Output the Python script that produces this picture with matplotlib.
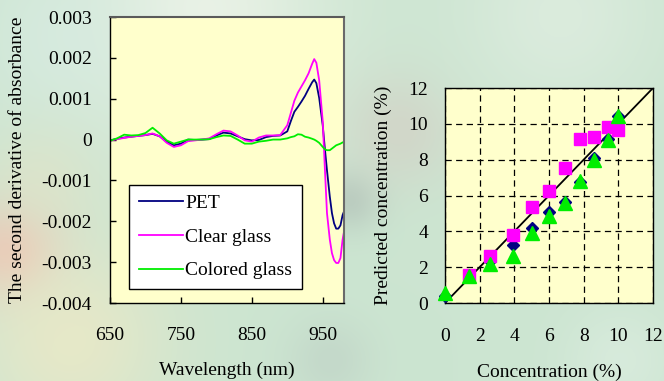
import numpy as np
import matplotlib
matplotlib.use("Agg")
import matplotlib.pyplot as plt

# ---------------- data ----------------
wavelength = [650, 660, 670, 680, 690, 700, 710, 720, 730, 740, 750, 760, 770, 780,
              790, 800, 810, 820, 830, 840, 850, 860, 870, 880, 890, 900, 905, 910,
              915, 920, 925, 930, 935, 938, 941, 945, 950, 953, 956, 960, 963, 966,
              969, 972, 975, 978, 980]
pet = [-0.02, 0.02, 0.05, 0.07, 0.09, 0.11, 0.14, 0.08, -0.05, -0.14, -0.10, 0.00, -0.01, 0.00,
       0.01, 0.10, 0.17, 0.15, 0.08, 0.01, -0.02, -0.01, 0.06, 0.09, 0.10, 0.20, 0.45, 0.68,
       0.80, 0.93, 1.07, 1.24, 1.40, 1.47, 1.38, 1.02, 0.35, -0.22, -0.75, -1.40, -1.80, -2.05,
       -2.18, -2.18, -2.10, -1.85, -1.76]
clear_glass = [-0.03, 0.01, 0.04, 0.07, 0.09, 0.11, 0.15, 0.08, -0.08, -0.18, -0.14, -0.04, -0.02, 0.00,
               0.03, 0.13, 0.22, 0.20, 0.10, -0.02, -0.05, 0.05, 0.10, 0.10, 0.11, 0.35, 0.65, 0.95,
               1.15, 1.30, 1.45, 1.62, 1.85, 1.97, 1.88, 1.45, 0.45, -0.70, -1.80, -2.45, -2.78, -2.95,
               -3.02, -3.02, -2.90, -2.45, -2.26]
colored_glass = [-0.03, 0.03, 0.12, 0.10, 0.11, 0.16, 0.29, 0.15, -0.02, -0.10, -0.05, 0.00, 0.00, 0.00,
                 0.01, 0.06, 0.10, 0.09, 0.00, -0.10, -0.10, -0.05, -0.03, 0.00, 0.00, 0.03, 0.06, 0.08,
                 0.13, 0.12, 0.07, 0.05, 0.02, 0.00, -0.03, -0.08, -0.18, -0.24, -0.26, -0.26, -0.22, -0.18,
                 -0.14, -0.12, -0.10, -0.07, -0.06]
series_names = ["PET", "Clear glass", "Colored glass"]
x_ticks_left = [650, 750, 850, 950]
y_ticks_left = [0.003, 0.002, 0.001, 0, -0.001, -0.002, -0.003, -0.004]
y_ticklabels_left = ["0.003", "0.002", "0.001", "0", "-0.001", "-0.002", "-0.003", "-0.004"]

conc_pet = [0, 1.4, 2.6, 3.9, 5.0, 6.0, 6.9, 7.8, 8.6, 9.4, 10.0]
pred_pet = [0.37, 1.5, 2.35, 3.24, 4.17, 5.09, 5.65, 6.76, 8.09, 9.17, 10.46]
conc_clear = [1.4, 2.6, 3.9, 5.0, 6.0, 6.9, 7.8, 8.6, 9.4, 10.0]
pred_clear = [1.57, 2.65, 3.80, 5.37, 6.24, 7.56, 9.17, 9.26, 9.85, 9.63]
conc_colored = [0, 1.4, 2.6, 3.9, 5.0, 6.0, 6.9, 7.8, 8.6, 9.4, 10.0]
pred_colored = [0.55, 1.48, 2.17, 2.65, 3.89, 4.85, 5.59, 6.81, 7.96, 9.11, 10.41]
ideal = [0, 12]
ticks_right = [0, 2, 4, 6, 8, 10, 12]

FONT = "Liberation Serif"
FS = 14
plt.rcParams['font.family'] = [FONT, 'DejaVu Serif']

fig = plt.figure(figsize=(6.64, 3.81), dpi=100)

# ---------------- soft background ----------------
H, W = 381, 664
yy, xx = np.mgrid[0:H, 0:W]
img = np.zeros((H, W, 3))
img[:] = np.array([204, 229, 209]) / 255.0
blobs = [
    (200, 10, 90, (236, 243, 232), 0.9),
    (60, 40, 60, (215, 235, 225), 0.7),
    (10, 250, 35, (236, 192, 178), 0.9),
    (70, 340, 70, (236, 233, 198), 0.8),
    (40, 180, 40, (225, 228, 200), 0.6),
    (350, 200, 22, (178, 195, 185), 0.7),
    (400, 130, 40, (212, 205, 195), 0.6),
    (560, 15, 70, (225, 238, 226), 0.7),
    (620, 360, 40, (222, 238, 226), 0.6),
    (330, 360, 30, (188, 205, 195), 0.5),
]
for cx, cy, s, col, a in blobs:
    w = a * np.exp(-((xx - cx) ** 2 + (yy - cy) ** 2) / (2 * s * s))
    img = img * (1 - w[..., None]) + (np.array(col) / 255.0) * w[..., None]
bg = fig.add_axes([0, 0, 1, 1], zorder=-10)
bg.imshow(img, aspect='auto', extent=[0, 1, 0, 1], interpolation='bilinear')
bg.set_axis_off()

# ---------------- left panel ----------------
ax1 = fig.add_axes([110 / 664, 1 - 303 / 381, 234 / 664, 286 / 381])
ax1.set_facecolor('#FFFFCC')
colors = ['#000080', '#FF00FF', '#00EE00']
wl = np.array(wavelength)
for vals, name, c in zip([pet, clear_glass, colored_glass], series_names, colors):
    ax1.plot(wl, np.array(vals) * 1e-3, color=c, lw=1.3, label=name)
ax1.set_xlim(650, 980)
ax1.set_ylim(-0.004, 0.003)
ax1.set_xticks(x_ticks_left)
ax1.set_yticks(y_ticks_left)
ax1.set_yticklabels(y_ticklabels_left)
ax1.tick_params(direction='in', length=4, width=1, labelsize=FS, colors='black')
ax1.tick_params(axis='x', pad=17)
ax1.tick_params(axis='y', pad=13)
ax1.tick_params(top=False, right=False)
for sp in ['left', 'bottom']:
    ax1.spines[sp].set_color('black')
    ax1.spines[sp].set_linewidth(1.0)
ax1.spines['top'].set_color('#5a5a5a')
ax1.spines['top'].set_linewidth(1.5)
ax1.spines['right'].set_color('#6a6a6a')
ax1.spines['right'].set_linewidth(1.5)
ax1.set_xlabel("Wavelength (nm)", fontsize=FS, va='center')
ax1.xaxis.set_label_coords(0.5, (303 - 370) / 286)
ax1.set_ylabel("The second derivative of absorbance", fontsize=FS, va='center')
ax1.yaxis.set_label_coords((18 - 110) / 234, 0.5)
leg = ax1.legend(loc='upper left', bbox_to_anchor=(0.081, 0.413), fontsize=FS,
                 frameon=True, fancybox=False, framealpha=1, edgecolor='black',
                 handlelength=2.3, handletextpad=0.1, labelspacing=0.82,
                 borderpad=0.5, borderaxespad=0)
leg.get_frame().set_linewidth(1.0)

# ---------------- right panel ----------------
ax2 = fig.add_axes([445 / 664, 1 - 303 / 381, 208 / 664, 215 / 381])
ax2.set_facecolor('#FFFFCC')
ax2.set_xlim(0, 12)
ax2.set_ylim(0, 12)
ax2.set_xticks(ticks_right)
ax2.set_yticks(ticks_right)
ax2.grid(True, color='black', linestyle=(0, (5, 3.5)), linewidth=0.9)
ax2.set_axisbelow(True)
ax2.tick_params(length=0, labelsize=FS)
ax2.tick_params(axis='x', pad=18)
ax2.tick_params(axis='y', pad=12)
for sp in ax2.spines.values():
    sp.set_color('black')
    sp.set_linewidth(1.0)
ax2.plot(ideal, ideal, color='black', lw=1.3, zorder=3)
ax2.plot(conc_pet, pred_pet, linestyle='none', marker='D', ms=6.5, color='#000080', zorder=4, clip_on=False)
ax2.plot(conc_clear, pred_clear, linestyle='none', marker='s', ms=8, color='#FF00FF', zorder=5, clip_on=False)
ax2.plot(conc_colored, pred_colored, linestyle='none', marker='^', ms=9.5, color='#00EE00', zorder=6, clip_on=False)
ax2.set_xlabel("Concentration (%)", fontsize=FS, va='center')
ax2.xaxis.set_label_coords(0.5, (303 - 372) / 215)
ax2.set_ylabel("Predicted concentration (%)", fontsize=FS, va='center')
ax2.yaxis.set_label_coords((383 - 445) / 208, 0.5)

fig.savefig("out.png", dpi=100)
